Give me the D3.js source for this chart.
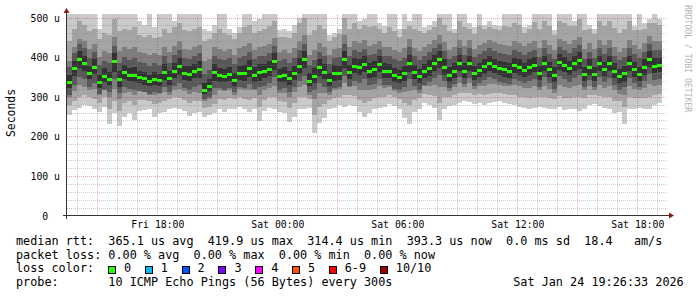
<!DOCTYPE html>
<html>
<head>
<meta charset="utf-8">
<script src="https://cdnjs.cloudflare.com/ajax/libs/d3/7.8.5/d3.min.js"></script>
<style>
  body { margin: 0; background: #fff; }
  svg text { font-family: "DejaVu Sans Mono", monospace; white-space: pre; }
</style>
</head>
<body>
<div id="chart"></div>
<script>
// smokeping graph, last 30 hours, values in 15 min buckets
var startTime = new Date(2026, 0, 23, 13, 29);
var endTime = new Date(2026, 0, 24, 19, 29);
var stepMinutes = 15;

// median rtt (us)
var median = [
  338, 372, 395, 385, 360, 376, 338, 352, 345, 390,
  345, 362, 355, 356, 350, 346, 340, 345, 342, 362,
  346, 365, 378, 359, 358, 364, 370, 317, 328, 362,
  355, 352, 358, 342, 360, 360, 372, 355, 362, 364,
  370, 390, 352, 356, 348, 360, 378, 395, 340, 353,
  374, 362, 343, 360, 360, 395, 362, 378, 374, 382,
  365, 370, 382, 365, 364, 355, 350, 359, 385, 362,
  352, 364, 372, 385, 395, 376, 355, 365, 385, 366,
  384, 360, 368, 377, 385, 378, 372, 370, 366, 380,
  375, 368, 376, 380, 360, 385, 370, 355, 388, 380,
  372, 385, 392, 358, 376, 358, 385, 370, 385, 365,
  352, 360, 384, 370, 358, 376, 395, 378, 380
];

// sorted pings of each bucket (us), rtt1 = fastest ... rtt10 = slowest
var rtt1 = [
  255, 266, 272, 280, 276, 270, 262, 275, 232, 260,
  227, 250, 258, 240, 265, 266, 268, 250, 258, 262,
  270, 272, 268, 265, 252, 258, 262, 250, 255, 258,
  270, 262, 268, 270, 275, 268, 262, 270, 239, 265,
  272, 268, 262, 258, 235, 250, 270, 268, 272, 209,
  233, 245, 268, 272, 278, 275, 280, 276, 262, 250,
  258, 268, 272, 275, 282, 276, 268, 245, 232, 262,
  270, 285, 280, 272, 240, 270, 276, 280, 285, 290,
  286, 282, 285, 280, 284, 286, 288, 284, 282, 280,
  275, 272, 268, 272, 275, 272, 268, 270, 274, 266,
  268, 270, 264, 270, 280, 282, 276, 272, 268, 258,
  262, 232, 268, 270, 272, 270, 268, 280, 283
];
var rtt2 = [
  280, 290, 300, 305, 298, 295, 285, 298, 270, 290,
  265, 285, 290, 280, 292, 292, 290, 282, 285, 290,
  295, 298, 296, 292, 284, 288, 288, 272, 275, 282,
  295, 292, 296, 294, 298, 295, 292, 296, 275, 292,
  298, 298, 288, 286, 272, 285, 298, 300, 295, 255,
  275, 282, 292, 296, 300, 305, 305, 302, 292, 285,
  290, 296, 300, 300, 305, 300, 294, 285, 278, 292,
  296, 306, 304, 302, 285, 298, 300, 304, 310, 310,
  310, 305, 306, 304, 308, 310, 310, 306, 305, 305,
  300, 298, 296, 300, 298, 300, 296, 295, 302, 296,
  296, 300, 298, 296, 304, 304, 302, 298, 298, 290,
  288, 275, 298, 296, 296, 296, 300, 304, 306
];
var rtt3 = [
  300, 315, 330, 325, 318, 320, 305, 318, 300, 320,
  295, 310, 312, 305, 315, 312, 305, 305, 306, 312,
  305, 318, 320, 314, 308, 312, 310, 290, 295, 305,
  318, 315, 318, 305, 320, 318, 318, 318, 305, 316,
  322, 328, 310, 310, 300, 312, 324, 330, 305, 295,
  310, 310, 305, 318, 320, 335, 325, 326, 318, 318,
  316, 320, 326, 322, 325, 315, 310, 312, 315, 318,
  310, 326, 326, 330, 325, 324, 315, 324, 334, 325,
  334, 320, 326, 328, 332, 332, 330, 328, 326, 330,
  326, 322, 322, 326, 318, 328, 320, 310, 330, 324,
  322, 328, 330, 318, 326, 318, 330, 322, 326, 316,
  308, 305, 326, 320, 318, 322, 332, 328, 330
];
var rtt4 = [
  305, 330, 350, 345, 325, 335, 308, 318, 312, 345,
  310, 325, 320, 318, 315, 312, 308, 312, 310, 325,
  312, 328, 335, 322, 318, 325, 330, 295, 300, 322,
  322, 318, 322, 312, 325, 322, 332, 320, 325, 328,
  335, 350, 318, 322, 312, 325, 340, 352, 312, 318,
  335, 325, 312, 322, 325, 352, 328, 340, 335, 345,
  330, 332, 345, 330, 330, 320, 316, 325, 345, 328,
  318, 330, 338, 348, 355, 340, 322, 332, 350, 332,
  348, 328, 334, 342, 350, 344, 338, 335, 332, 345,
  340, 335, 340, 345, 325, 350, 335, 320, 352, 345,
  338, 348, 355, 325, 342, 325, 350, 338, 348, 330,
  318, 325, 348, 335, 325, 340, 358, 342, 345
];
var rtt5 = [
  322, 352, 372, 366, 344, 358, 322, 336, 330, 362,
  325, 344, 340, 338, 334, 330, 326, 330, 328, 342,
  330, 346, 356, 342, 340, 346, 348, 306, 314, 340,
  338, 336, 340, 328, 342, 340, 350, 338, 340, 346,
  352, 368, 336, 338, 330, 342, 358, 372, 326, 334,
  352, 344, 328, 340, 342, 372, 344, 360, 354, 362,
  346, 350, 362, 348, 346, 338, 334, 340, 362, 344,
  334, 346, 352, 366, 372, 356, 338, 346, 364, 348,
  364, 342, 350, 358, 366, 360, 354, 350, 348, 360,
  356, 350, 356, 362, 342, 366, 350, 336, 368, 362,
  354, 364, 370, 340, 356, 340, 366, 352, 364, 346,
  334, 338, 364, 350, 340, 356, 374, 360, 362
];
var rtt6 = [
  356, 390, 415, 402, 378, 395, 356, 372, 362, 410,
  365, 380, 372, 376, 366, 362, 356, 362, 358, 382,
  364, 384, 398, 378, 378, 382, 390, 335, 345, 382,
  372, 370, 376, 360, 378, 380, 392, 374, 382, 382,
  390, 410, 370, 374, 366, 378, 398, 415, 360, 372,
  394, 382, 360, 380, 378, 415, 380, 398, 394, 402,
  384, 390, 402, 384, 382, 372, 368, 378, 405, 380,
  370, 382, 392, 405, 415, 396, 374, 384, 405, 384,
  403, 378, 386, 396, 404, 396, 390, 388, 384, 398,
  394, 386, 396, 400, 378, 404, 388, 374, 408, 400,
  390, 404, 412, 376, 396, 376, 404, 388, 404, 384,
  370, 378, 404, 388, 376, 396, 415, 398, 398
];
var rtt7 = [
  375, 410, 432, 422, 398, 412, 380, 390, 385, 428,
  385, 400, 392, 398, 388, 384, 378, 385, 380, 402,
  385, 405, 418, 398, 396, 402, 410, 358, 368, 402,
  395, 392, 398, 382, 398, 402, 412, 395, 402, 404,
  410, 428, 390, 396, 386, 398, 418, 432, 380, 392,
  412, 402, 382, 398, 400, 432, 402, 418, 412, 420,
  405, 408, 420, 404, 402, 395, 390, 398, 425, 402,
  392, 402, 412, 422, 432, 415, 395, 404, 422, 405,
  422, 400, 408, 416, 422, 416, 410, 408, 405, 418,
  414, 406, 414, 418, 400, 422, 408, 395, 426, 418,
  410, 422, 430, 396, 414, 398, 422, 408, 422, 404,
  392, 400, 422, 408, 398, 414, 432, 418, 418
];
var rtt8 = [
  390, 425, 445, 440, 420, 432, 400, 415, 410, 450,
  415, 425, 420, 425, 412, 410, 405, 410, 405, 425,
  412, 428, 440, 420, 418, 426, 430, 390, 395, 425,
  420, 416, 420, 405, 422, 428, 435, 418, 425, 428,
  432, 448, 412, 418, 410, 422, 440, 455, 405, 418,
  435, 425, 405, 420, 422, 455, 425, 440, 435, 442,
  428, 432, 440, 426, 426, 418, 412, 422, 445, 424,
  416, 425, 432, 442, 455, 438, 418, 426, 444, 428,
  442, 420, 430, 436, 442, 438, 432, 430, 428, 440,
  436, 428, 436, 440, 422, 444, 430, 418, 446, 440,
  432, 444, 452, 420, 436, 420, 444, 430, 444, 426,
  414, 422, 444, 430, 420, 436, 454, 440, 440
];
var rtt9 = [
  440, 470, 490, 480, 465, 470, 445, 460, 455, 495,
  465, 470, 468, 475, 455, 450, 455, 448, 452, 470,
  460, 475, 485, 468, 465, 472, 475, 440, 445, 460,
  470, 462, 455, 445, 460, 475, 480, 460, 465, 472,
  478, 490, 450, 452, 448, 460, 485, 500, 455, 468,
  482, 470, 440, 450, 458, 500, 470, 485, 470, 480,
  475, 478, 470, 462, 475, 466, 450, 470, 478, 472,
  465, 462, 468, 475, 498, 482, 465, 460, 490, 475,
  472, 458, 478, 470, 475, 470, 468, 478, 475, 485,
  482, 462, 470, 488, 470, 490, 478, 455, 492, 486,
  478, 478, 496, 468, 470, 458, 490, 478, 490, 474,
  462, 470, 490, 468, 468, 472, 485, 486, 480
];
var rtt10 = [
  520, 520, 520, 520, 520, 520, 470, 520, 520, 520,
  520, 520, 520, 520, 490, 480, 520, 475, 520, 520,
  520, 490, 520, 520, 520, 520, 520, 470, 465, 480,
  520, 520, 470, 460, 475, 520, 520, 490, 495, 520,
  520, 520, 468, 470, 465, 480, 500, 520, 520, 520,
  520, 520, 455, 462, 470, 520, 520, 520, 490, 495,
  520, 520, 485, 478, 520, 520, 470, 520, 490, 520,
  520, 475, 480, 490, 520, 520, 520, 472, 520, 520,
  485, 475, 520, 480, 490, 482, 478, 520, 520, 520,
  520, 475, 482, 520, 520, 520, 520, 468, 520, 520,
  520, 490, 520, 520, 480, 472, 520, 520, 520, 520,
  520, 520, 520, 478, 520, 485, 495, 520, 495
];

var yTicks = [0, 100, 200, 300, 400, 500];
var yTickLabels = ["0  ", "100 u", "200 u", "300 u", "400 u", "500 u"];
var xLabelTimes = [
  new Date(2026, 0, 23, 18, 0), new Date(2026, 0, 24, 0, 0),
  new Date(2026, 0, 24, 6, 0), new Date(2026, 0, 24, 12, 0),
  new Date(2026, 0, 24, 18, 0)
];
var lossLabels = ["0", "1", "2", "3", "4", "5", "6-9", "10/10"];
var lossColors = ["#26ff00", "#00b8ff", "#0059ff", "#7e00ff", "#ff00ff", "#ff5500", "#ff0000", "#a10000"];
var smokeColors = ["#cacaca", "#a4a4a4", "#7e7e7e", "#585858", "#323232"];

var legendMedian = "median rtt:  365.1 us avg  419.9 us max  314.4 us min  393.3 us now  0.0 ms sd  18.4   am/s";
var legendLoss = "packet loss: 0.00 % avg  0.00 % max  0.00 % min  0.00 % now";
var legendProbe = "probe:       10 ICMP Echo Pings (56 Bytes) every 300s";
var stamp = "Sat Jan 24 19:26:33 2026";

var pings = [rtt1, rtt2, rtt3, rtt4, rtt5, rtt6, rtt7, rtt8, rtt9, rtt10];

// ---- drawing ----
var W = 697, H = 297;
var plot = {left: 67, right: 667, top: 14, bottom: 215.5};

var svg = d3.select("#chart").append("svg")
    .attr("width", W)
    .attr("height", H)
    .style("display", "block");

svg.append("rect").attr("width", W).attr("height", H).attr("fill", "#fff");

var x = d3.scaleTime().domain([startTime, endTime]).range([plot.left, plot.right]);
var y = d3.scaleLinear().domain([0, 500]).range([215.5, 17.5]);

function bucketTime(i) { return d3.timeMinute.offset(startTime, i * stepMinutes); }

svg.append("clipPath").attr("id", "plotclip")
  .append("rect")
    .attr("x", plot.left).attr("y", plot.top)
    .attr("width", plot.right - plot.left).attr("height", plot.bottom - plot.top);

var data = svg.append("g").attr("clip-path", "url(#plotclip)")
    .attr("shape-rendering", "crispEdges");

// smoke: band k spans ping k .. ping (11-k)
smokeColors.forEach(function(col, k) {
  var lo = pings[k], hi = pings[9 - k];
  data.append("g").selectAll("rect")
    .data(median)
    .join("rect")
      .attr("x", function(d, i) { return x(bucketTime(i)); })
      .attr("width", function(d, i) { return x(bucketTime(i + 1)) - x(bucketTime(i)); })
      .attr("y", function(d, i) { return Math.min(y(hi[i]), y(lo[i])); })
      .attr("height", function(d, i) { return Math.abs(y(lo[i]) - y(hi[i])); })
      .attr("fill", col);
});

// median marks, loss 0 => green
data.append("g").selectAll("rect")
  .data(median)
  .join("rect")
    .attr("x", function(d, i) { return x(bucketTime(i)); })
    .attr("width", function(d, i) { return x(bucketTime(i + 1)) - x(bucketTime(i)); })
    .attr("y", function(d) { return Math.round(y(d)) - 1.5; })
    .attr("height", 3)
    .attr("fill", lossColors[0]);

// grid on top of the data (rrdtool style)
var grid = svg.append("g").attr("shape-rendering", "crispEdges");
var hours = d3.timeHour.range(d3.timeHour.ceil(startTime), endTime);
grid.selectAll(".vgrid")
  .data(hours)
  .join("line")
    .attr("x1", function(d) { return Math.round(x(d)) + 0.5; })
    .attr("x2", function(d) { return Math.round(x(d)) + 0.5; })
    .attr("y1", plot.bottom)
    .attr("y2", plot.top + 1)
    .attr("stroke", function(d) { return d.getHours() % 3 === 0 ? "rgba(190,60,60,0.42)" : "rgba(128,128,128,0.42)"; })
    .attr("stroke-dasharray", "1,1");

grid.selectAll(".hgrid")
  .data(d3.range(20, 501, 20))
  .join("line")
    .attr("x1", plot.left)
    .attr("x2", plot.right)
    .attr("y1", function(d) { return Math.round(y(d)) + 0.5; })
    .attr("y2", function(d) { return Math.round(y(d)) + 0.5; })
    .attr("stroke", function(d) { return d % 100 === 0 ? "rgba(190,60,60,0.42)" : "rgba(128,128,128,0.42)"; })
    .attr("stroke-dasharray", "1,1");

// axes lines + arrows
var axisCol = "#333";
svg.append("line")
    .attr("x1", plot.left - 4).attr("x2", plot.right + 3)
    .attr("y1", 215.5).attr("y2", 215.5)
    .attr("stroke", axisCol).attr("shape-rendering", "crispEdges");
svg.append("line")
    .attr("x1", 66.5).attr("x2", 66.5)
    .attr("y1", 219).attr("y2", 12)
    .attr("stroke", axisCol).attr("shape-rendering", "crispEdges");
svg.append("path")
    .attr("d", "M669,212.5 L674,215.5 L669,218.5 Z")
    .attr("fill", "#8b1c1c");
svg.append("path")
    .attr("d", "M63.5,13 L66.5,8 L69.5,13 Z")
    .attr("fill", "#8b1c1c");

// y axis labels
var yAxis = d3.axisLeft(y)
    .tickValues(yTicks)
    .tickSize(0)
    .tickPadding(7)
    .tickFormat(function(d, i) { return yTickLabels[i]; });
var gy = svg.append("g").attr("transform", "translate(67,0)").call(yAxis);
gy.select(".domain").remove();
gy.selectAll("text")
    .attr("font-family", "DejaVu Sans Mono")
    .attr("font-size", 9.8)
    .attr("fill", "#000")
    .attr("dy", "0.36em");

// x axis labels
var xAxis = d3.axisBottom(x)
    .tickValues(xLabelTimes)
    .tickSize(0)
    .tickPadding(6)
    .tickFormat(d3.timeFormat("%a %H:%M"));
var gx = svg.append("g").attr("transform", "translate(0,215)").call(xAxis);
gx.select(".domain").remove();
gx.selectAll("text")
    .attr("font-family", "DejaVu Sans Mono")
    .attr("font-size", 9.8)
    .attr("fill", "#000")
    .attr("dy", "0.71em");

// y axis title
svg.append("text")
    .attr("transform", "translate(15,113) rotate(-90)")
    .attr("text-anchor", "middle")
    .attr("font-size", 11.4)
    .text("Seconds");

// watermark
svg.append("text")
    .attr("transform", "translate(684.5,5) rotate(90)")
    .attr("font-size", 8.1)
    .attr("fill", "#b4b4b4")
    .text("RRDTOOL / TOBI OETIKER");

// legend
var fs = 11.8, cw = fs * 0.602;
svg.append("text").attr("x", 16).attr("y", 245).attr("font-size", fs).text(legendMedian);
svg.append("text").attr("x", 16).attr("y", 258.7).attr("font-size", fs).text(legendLoss);
svg.append("text").attr("x", 16).attr("y", 272.4).attr("font-size", fs).text("loss color:");
svg.append("text").attr("x", 16).attr("y", 286.2).attr("font-size", fs).text(legendProbe);
svg.append("text").attr("x", 16 + 70 * cw).attr("y", 286.2).attr("font-size", fs).text(stamp);

var lx = 108.5;
lossLabels.forEach(function(lab, i) {
  svg.append("rect")
      .attr("x", lx).attr("y", 266.5)
      .attr("width", 7).attr("height", 7)
      .attr("fill", lossColors[i])
      .attr("stroke", "#000")
      .attr("shape-rendering", "crispEdges");
  svg.append("text").attr("x", lx + 15.5).attr("y", 272.4).attr("font-size", fs).text(lab);
  lx += (lab.length + 4.18) * cw;
});
</script>
</body>
</html>
